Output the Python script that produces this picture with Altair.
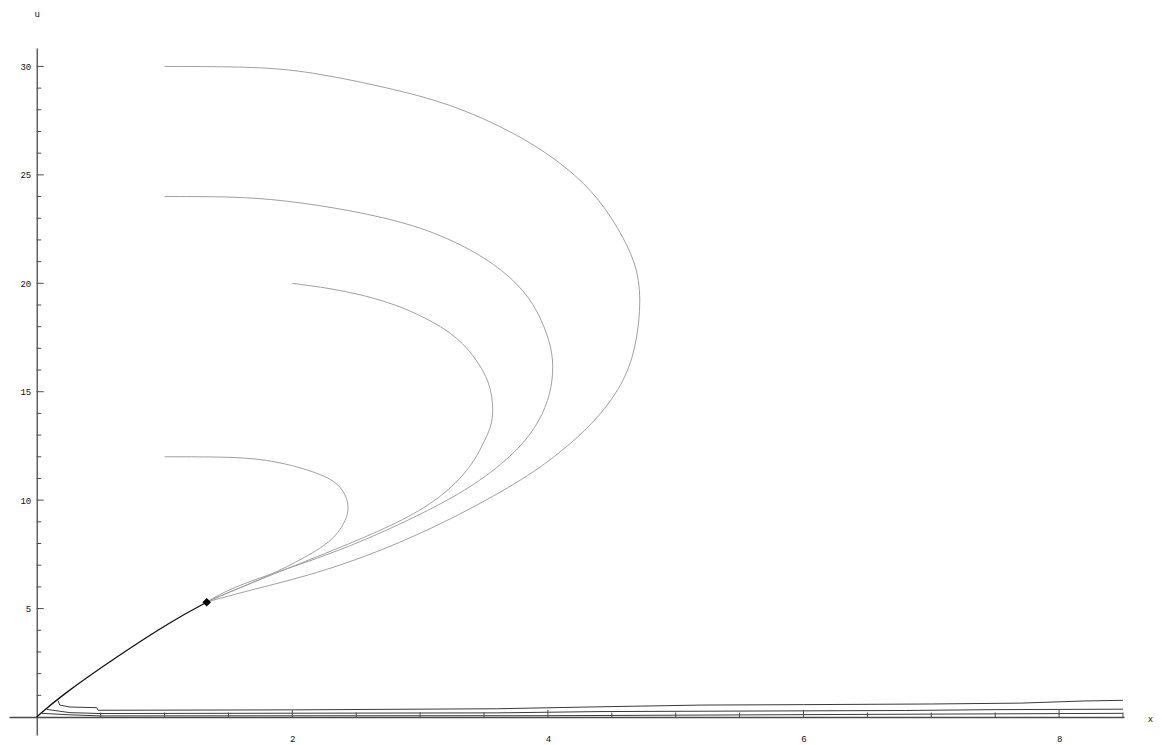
import altair as alt
import pandas as pd

# ---- curve data ----
c30_x = [1.00, 1.72, 2.14, 2.71, 3.23, 3.755, 4.15, 4.41, 4.59, 4.71, 4.73, 4.67, 4.54, 4.355, 4.09, 3.78, 3.23, 2.71, 2.19, 1.67, 1.328]
c30_y = [30.0, 29.99, 29.76, 29.07, 28.31, 26.92, 25.38, 23.85, 22.15, 20.61, 18.77, 16.47, 14.92, 13.54, 12.15, 10.84, 9.07, 7.69, 6.61, 5.85, 5.30]

c24_x = [1.00, 1.537, 1.928, 2.45, 2.97, 3.364, 3.65, 3.859, 3.976, 4.04, 4.04, 3.99, 3.86, 3.65, 3.364, 2.97, 2.45, 1.928, 1.537, 1.328]
c24_y = [24.0, 24.0, 23.84, 23.38, 22.69, 21.69, 20.61, 19.38, 17.99, 16.77, 15.54, 14.30, 12.92, 11.69, 10.46, 9.23, 7.84, 6.77, 6.00, 5.30]

c20_x = [2.00, 2.294, 2.555, 2.816, 3.024, 3.207, 3.337, 3.442, 3.52, 3.56, 3.572, 3.56, 3.48, 3.415, 3.233, 2.97, 2.58, 2.06, 1.667, 1.328]
c20_y = [20.0, 19.77, 19.46, 19.0, 18.46, 17.85, 17.23, 16.46, 15.69, 14.93, 14.16, 13.39, 12.46, 11.69, 10.46, 9.38, 8.30, 7.08, 6.15, 5.30]

c12_x = [1.00, 1.407, 1.80, 2.19, 2.372, 2.45, 2.424, 2.32, 2.11, 1.80, 1.537, 1.328]
c12_y = [12.0, 12.0, 11.92, 11.30, 10.77, 9.84, 9.07, 8.15, 7.38, 6.46, 5.84, 5.30]

blk_x = [0.0, 0.18, 0.625, 1.068, 1.33]
blk_y = [0.0, 0.94, 2.78, 4.47, 5.29]

b1_x = [0.167, 0.18, 0.26, 0.47, 0.48, 2.0, 3.6, 4.4, 5.2, 6.0, 7.0, 7.7, 8.2, 8.5]
b1_y = [0.75, 0.55, 0.46, 0.43, 0.31, 0.33, 0.38, 0.47, 0.55, 0.57, 0.60, 0.64, 0.74, 0.77]
b2_x = [0.08, 0.26, 0.5, 3.6, 4.4, 6.8, 7.5, 8.5]
b2_y = [0.35, 0.20, 0.16, 0.19, 0.25, 0.30, 0.34, 0.36]
b3_x = [0.04, 0.26, 0.5, 4.0, 8.5]
b3_y = [0.17, 0.10, 0.05, 0.06, 0.17]

pt_x = [1.33]
pt_y = [5.29]

# ---- axis ticks ----
y_labels = [5, 10, 15, 20, 25, 30]
y_minor = [v for v in range(1, 31) if v % 5 != 0]
x_labels = [2, 4, 6, 8]
x_minor = [v / 2 for v in range(1, 18) if v % 4 != 0]


def frame(name, xs, ys):
    return pd.DataFrame({"x": xs, "y": ys, "i": list(range(len(xs))), "s": name})


gray_df = pd.concat([frame("c30", c30_x, c30_y), frame("c24", c24_x, c24_y),
                     frame("c20", c20_x, c20_y), frame("c12", c12_x, c12_y)])
black_df = frame("blk", blk_x, blk_y)
bottom_df = pd.concat([frame("b1", b1_x, b1_y), frame("b2", b2_x, b2_y), frame("b3", b3_x, b3_y)])
pt_df = pd.DataFrame({"x": pt_x, "y": pt_y})
ytick_major = pd.DataFrame({"x": [0.0] * len(y_labels), "y": y_labels})
ytick_minor = pd.DataFrame({"x": [0.0] * len(y_minor), "y": y_minor})
xtick_major = pd.DataFrame({"x": x_labels, "y": [0.0] * len(x_labels)})
xtick_minor = pd.DataFrame({"x": x_minor, "y": [0.0] * len(x_minor)})

X_DOM = [-0.217, 8.508]
Y_DOM = [-0.83, 30.85]
W, H = 1115, 687
FONT = "Liberation Mono"
AX = "#4a4a4a"

xs = alt.Scale(domain=X_DOM, nice=False, zero=False)
ys = alt.Scale(domain=Y_DOM, nice=False, zero=False)

x_off = -(0 - Y_DOM[0]) * H / (Y_DOM[1] - Y_DOM[0])
y_off = -(0 - X_DOM[0]) * W / (X_DOM[1] - X_DOM[0])

x_axis = alt.Axis(values=x_labels, format="d", ticks=False, tickSize=0, grid=False,
                  domainColor=AX, domainWidth=1.3, offset=x_off, labelPadding=17,
                  labelFont=FONT, labelFontSize=9, labelColor="#111", labelFlush=False,
                  title="x", titleFont=FONT, titleFontSize=9, titleFontWeight="normal",
                  titleColor="#111", titleAngle=0, titleX=1141, titleY=1,
                  titleAlign="center", titleBaseline="middle")
y_axis = alt.Axis(values=y_labels, format="d", ticks=False, tickSize=0, grid=False,
                  domainColor=AX, domainWidth=1.3, offset=y_off, labelPadding=6,
                  labelFont=FONT, labelFontSize=9, labelColor="#111", labelFlush=False,
                  title="u", titleFont=FONT, titleFontSize=9, titleFontWeight="normal",
                  titleColor="#111", titleAngle=0, titleX=0, titleY=-35,
                  titleAlign="center", titleBaseline="middle")


def X():
    return alt.X("x:Q", scale=xs, axis=x_axis)


def Y():
    return alt.Y("y:Q", scale=ys, axis=y_axis)


gray_lines = alt.Chart(gray_df).mark_line(color="#a0a0a0", strokeWidth=1, interpolate="basis").encode(
    x=X(), y=Y(), detail="s:N", order="i:Q")
black_line = alt.Chart(black_df).mark_line(color="#111", strokeWidth=1.3, interpolate="basis").encode(
    x=X(), y=Y(), order="i:Q")
bottom_lines = alt.Chart(bottom_df).mark_line(color="#3a3a3a", strokeWidth=1).encode(
    x=X(), y=Y(), detail="s:N", order="i:Q")
point = alt.Chart(pt_df).mark_point(shape="diamond", filled=True, color="black", size=75, opacity=1).encode(
    x=X(), y=Y())

yt_major = alt.Chart(ytick_major).mark_tick(orient="horizontal", size=7, thickness=1, xOffset=3.5, color=AX, opacity=1).encode(x=X(), y=Y())
yt_minor = alt.Chart(ytick_minor).mark_tick(orient="horizontal", size=4.5, thickness=1, xOffset=2.25, color=AX, opacity=1).encode(x=X(), y=Y())
xt_major = alt.Chart(xtick_major).mark_tick(orient="vertical", size=7, thickness=1, yOffset=-3.5, color=AX, opacity=1).encode(x=X(), y=Y())
xt_minor = alt.Chart(xtick_minor).mark_tick(orient="vertical", size=4.5, thickness=1, yOffset=-2.25, color=AX, opacity=1).encode(x=X(), y=Y())

chart = alt.layer(
    bottom_lines, gray_lines, black_line, yt_major, yt_minor, xt_major, xt_minor, point
).properties(
    width=W, height=H,
    autosize=alt.AutoSizeParams(type="none"),
    padding={"left": 1, "top": 40, "right": 29, "bottom": 12},
    background="white",
).configure_view(stroke=None)

chart.save("out.html", embed_options={"renderer": "svg", "actions": False})
